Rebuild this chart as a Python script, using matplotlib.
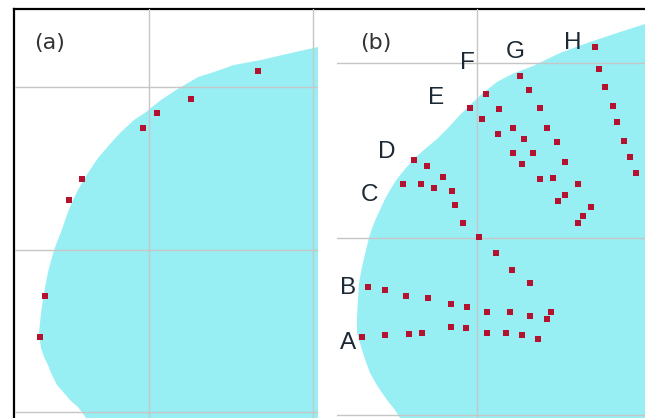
import numpy as np
import matplotlib
matplotlib.use('Agg')
import matplotlib.pyplot as plt

# image coordinates of each panel (px from panel top-left corner)
a_width, a_height = 303, 409
b_width, b_height = 308, 409

# panel (a): boundary of the cyan region and the edge points
a_edge_x = [303, 276, 246, 219, 196, 183, 161, 146, 131, 119, 106, 96, 83, 73, 64, 58,
            53, 46, 39, 33, 29, 26, 24, 26, 29, 33, 36, 42, 49, 56, 63, 71]
a_edge_y = [38, 44, 51, 56, 64, 68, 81, 91, 103, 111, 123, 134, 149, 164, 179, 191,
            203, 223, 241, 263, 284, 304, 324, 339, 348, 356, 364, 376, 384, 392, 398, 409]
a_dot_x = [243, 176, 142, 128, 67, 54, 30, 25]
a_dot_y = [62, 90, 104, 119, 170, 191, 287, 328]
a_grid_x = [134, 298]
a_grid_y = [78, 241, 403]

# panel (b): boundary of the cyan region
b_edge_x = [308, 283, 253, 223, 196, 175, 160, 146, 133, 122, 111, 100, 88, 77, 68, 60,
            53, 47, 42, 37, 33, 29, 25, 22, 21, 20, 20, 23, 25, 29, 33, 41, 50, 58, 63]
b_edge_y = [15, 23, 33, 44, 57, 65, 73, 84, 96, 107, 119, 130, 140, 150, 160, 170,
            181, 192, 203, 214, 225, 241, 258, 274, 291, 308, 324, 334, 341, 353, 364,
            378, 391, 401, 409]
b_grid_x = [140]
b_grid_y = [54, 229, 406]

# panel (b): tracks
track_A_x = [25, 48, 72, 85, 114, 129, 150, 169, 185, 201]
track_A_y = [328, 326, 325, 324, 318, 319, 324, 324, 326, 330]
track_B_x = [31, 48, 69, 91, 114, 130, 150, 173, 193, 214, 210]
track_B_y = [278, 281, 287, 289, 295, 298, 303, 303, 307, 303, 310]
track_C_x = [66, 84, 97]
track_C_y = [175, 175, 179]
track_D_x = [77, 90, 106, 115, 118, 126, 142, 159, 175, 193]
track_D_y = [151, 157, 168, 182, 196, 214, 228, 244, 261, 274]
track_E_x = [133, 145, 161, 176, 185]
track_E_y = [99, 110, 125, 144, 155]
track_F_x = [149, 162, 176, 187, 196, 203, 216, 228, 221]
track_F_y = [85, 100, 119, 130, 144, 170, 169, 186, 192]
track_G_x = [183, 192, 203, 210, 220, 228, 241, 254, 246, 241]
track_G_y = [67, 81, 99, 119, 133, 153, 175, 198, 207, 214]
track_H_x = [258, 262, 268, 276, 280, 287, 293, 299]
track_H_y = [38, 60, 78, 97, 113, 132, 148, 164]

track_names = ['A', 'B', 'C', 'D', 'E', 'F', 'G', 'H']
name_x = [11, 11, 33, 50, 99, 130, 178, 236]
name_y = [334, 279, 186, 143, 89, 54, 43, 34]

cyan = '#98eff3'
dot_color = '#b5122f'
grid_color = '#c6c6c6'

fig = plt.figure(figsize=(6.45, 4.18), dpi=100)

# black frame (only left and top visible)
frame = fig.add_axes([14 / 645, 0, 1 - 14 / 645, 1 - 9 / 418])
frame.set_xticks([])
frame.set_yticks([])
for s in ['right', 'bottom']:
    frame.spines[s].set_visible(False)
for s in ['left', 'top']:
    frame.spines[s].set_linewidth(1.6)
frame.patch.set_alpha(0)


def panel(rect, w, h, ex, ey, gx, gy):
    ax = fig.add_axes(rect)
    ax.set_xlim(0, w)
    ax.set_ylim(h, 0)
    ax.fill(list(ex) + [w, w], list(ey) + [h, ey[0]], color=cyan, lw=0, zorder=1)
    ax.set_xticks(gx)
    ax.set_yticks(gy)
    ax.grid(True, color=grid_color, linewidth=1.0)
    ax.set_axisbelow(False)
    ax.tick_params(length=0, labelbottom=False, labelleft=False)
    for s in ax.spines.values():
        s.set_visible(False)
    ax.patch.set_alpha(0)
    return ax


ax_a = panel([15 / 645, 0, a_width / 645, a_height / 418], a_width, a_height,
             a_edge_x, a_edge_y, a_grid_x, a_grid_y)
ax_a.scatter(a_dot_x, a_dot_y, marker='s', s=18, color=dot_color, lw=0, zorder=3)
ax_a.text(35, 34, '(a)', fontsize=16, color='#333333', ha='center', va='center')

ax_b = panel([337 / 645, 0, b_width / 645, b_height / 418], b_width, b_height,
             b_edge_x, b_edge_y, b_grid_x, b_grid_y)
tracks = [(track_A_x, track_A_y), (track_B_x, track_B_y), (track_C_x, track_C_y),
          (track_D_x, track_D_y), (track_E_x, track_E_y), (track_F_x, track_F_y),
          (track_G_x, track_G_y), (track_H_x, track_H_y)]
for tx, ty in tracks:
    ax_b.scatter(tx, ty, marker='s', s=18, color=dot_color, lw=0, zorder=3)
for name, nx, ny in zip(track_names, name_x, name_y):
    ax_b.text(nx, ny, name, fontsize=17.5, family='Liberation Sans', color='#1c2833',
              ha='center', va='center', zorder=4)
ax_b.text(39, 34, '(b)', fontsize=16, color='#333333', ha='center', va='center')

plt.savefig('out.png', dpi=100)
